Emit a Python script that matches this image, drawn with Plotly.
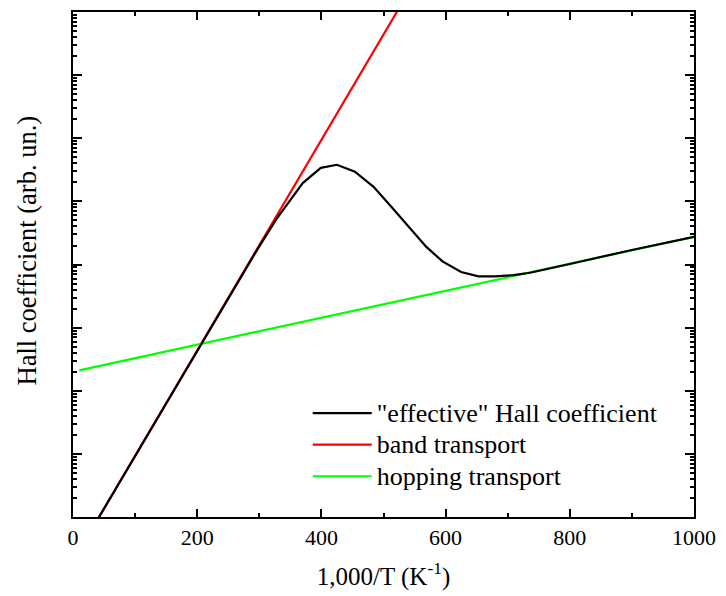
import plotly.graph_objects as go

# inverse temperature, 1000/T (K^-1)
x_eff = [0, 100, 200, 260, 297, 329, 370, 399, 425, 454, 484, 514, 543, 569,
         595, 625, 653, 680, 709, 736, 800, 900, 1000]
# "effective" Hall coefficient (arb. un.)
y_eff = [0.20, 9.2, 4.3e2, 4.3e3, 1.74e4, 5.5e4, 1.95e5, 3.4e5, 3.8e5, 2.95e5,
         1.7e5, 7.9e4, 3.7e4, 1.9e4, 1.12e4, 7.6e3, 6.5e3, 6.5e3, 6.8e3, 7.4e3,
         1.02e4, 1.7e4, 2.75e4]

x_band = [0, 560]
y_band = [0.20, 4.4e8]

x_hop = [10, 1000]
y_hop = [2.1e2, 2.75e4]

x_ticks = [0, 200, 400, 600, 800, 1000]

FONT = "Liberation Serif"


def big(t):
    return '<span style="font-size:26px">' + t + '</span>'


fig = go.Figure()
fig.add_trace(go.Scatter(x=x_band, y=y_band, mode="lines", name=big("band transport"),
                         line=dict(color="#ff0000", width=2.2), legendrank=2))
fig.add_trace(go.Scatter(x=x_hop, y=y_hop, mode="lines", name=big("hopping transport"),
                         line=dict(color="#00ff00", width=2.2), legendrank=3))
fig.add_trace(go.Scatter(x=x_eff, y=y_eff, mode="lines", name=big('"effective" Hall coefficient'),
                         line=dict(color="#000000", width=2.2), legendrank=1))

fig.update_layout(
    width=726, height=596,
    margin=dict(l=73, r=22, t=10, b=79),
    paper_bgcolor="white", plot_bgcolor="white",
    font=dict(family=FONT, size=22, color="black"),
    showlegend=True,
    legend=dict(x=0.378, y=0.247, xanchor="left", yanchor="top",
                bgcolor="rgba(0,0,0,0)", font=dict(size=22, family=FONT),
                itemwidth=59, tracegroupgap=0),
    annotations=[dict(text="Hall coefficient (arb. un.)", textangle=-90,
                      xref="paper", yref="paper", x=-0.074, y=0.528,
                      xanchor="center", yanchor="middle", showarrow=False,
                      font=dict(size=26.5, family=FONT))],
)
fig.update_xaxes(
    range=[0, 1000], tickvals=x_ticks, ticktext=[str(v) for v in x_ticks],
    showgrid=False, zeroline=False,
    showline=True, linewidth=2, linecolor="black", mirror="ticks",
    ticks="inside", ticklen=8, tickwidth=1.5, tickcolor="black",
    minor=dict(ticks="inside", ticklen=4, tickwidth=1.5, tickcolor="black", dtick=100, showgrid=False),
    tickfont=dict(size=22, family=FONT),
    title=dict(text="1,000/T (K<sup>-1</sup>)", font=dict(size=25, family=FONT), standoff=18),
)
fig.update_yaxes(
    type="log", range=[0, 8], dtick=1,
    showgrid=False, zeroline=False, showticklabels=False,
    showline=True, linewidth=2, linecolor="black", mirror="ticks",
    ticks="inside", ticklen=9, tickwidth=1.5, tickcolor="black",
    minor=dict(ticks="inside", ticklen=4, tickwidth=1.5, tickcolor="black", dtick="D1", showgrid=False),
)

fig.write_html("out.html")
